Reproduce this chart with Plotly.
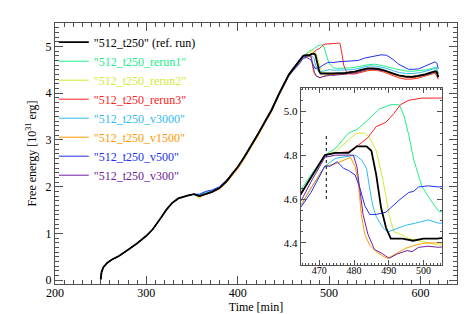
import plotly.graph_objects as go

# ---- shared early evolution (all runs coincide) ----
t_early = [250, 251, 253, 257, 262, 270, 280, 290, 300, 307, 315, 322, 328, 335, 345, 352]
f_early = [0.02, 0.18, 0.28, 0.37, 0.44, 0.52, 0.65, 0.79, 0.95, 1.09, 1.31, 1.51, 1.65, 1.75, 1.81, 1.84]

# ---- rise phase per run ----
t_rise = [358, 365, 372, 380, 388, 395, 400, 407, 415, 422, 430, 437, 445, 451, 456, 461]
f_rise_ref = [1.80, 1.85, 1.89, 1.97, 2.12, 2.30, 2.42, 2.63, 2.88, 3.12, 3.40, 3.64, 3.98, 4.22, 4.40, 4.53]
f_rise_rerun1 = [1.82, 1.86, 1.90, 1.98, 2.13, 2.31, 2.43, 2.64, 2.89, 3.13, 3.41, 3.65, 3.99, 4.23, 4.41, 4.54]
f_rise_rerun2 = [1.76, 1.84, 1.89, 1.97, 2.12, 2.30, 2.42, 2.63, 2.88, 3.12, 3.40, 3.64, 3.98, 4.22, 4.40, 4.53]
f_rise_rerun3 = [1.79, 1.84, 1.88, 1.96, 2.11, 2.29, 2.41, 2.62, 2.87, 3.11, 3.39, 3.63, 3.97, 4.21, 4.39, 4.52]
f_rise_v3000 = [1.83, 1.88, 1.91, 1.98, 2.12, 2.29, 2.41, 2.61, 2.86, 3.10, 3.38, 3.62, 3.96, 4.20, 4.38, 4.50]
f_rise_v1500 = [1.79, 1.84, 1.88, 1.95, 2.09, 2.26, 2.38, 2.59, 2.84, 3.08, 3.36, 3.60, 3.94, 4.18, 4.36, 4.49]
f_rise_v500 = [1.84, 1.90, 1.93, 2.00, 2.15, 2.31, 2.42, 2.62, 2.87, 3.11, 3.39, 3.62, 3.96, 4.19, 4.37, 4.49]
f_rise_v300 = [1.80, 1.85, 1.89, 1.97, 2.12, 2.30, 2.42, 2.63, 2.88, 3.12, 3.40, 3.64, 3.98, 4.21, 4.39, 4.51]

# ---- individual late evolution ----
t_ref = [465, 468, 471.6, 474.6, 478.4, 480.8, 483.6, 485, 486.4, 487.8, 489.2, 490.6, 494, 497, 500, 504,
         510, 517, 523, 528, 534, 542, 548, 554, 560, 565, 570, 576, 583, 590, 597, 605, 611, 616, 618, 619.5]
f_ref = [4.63, 4.71, 4.80, 4.81, 4.81, 4.84, 4.84, 4.82, 4.71, 4.56, 4.47, 4.42, 4.42, 4.41, 4.42, 4.42,
         4.43, 4.43, 4.45, 4.46, 4.49, 4.53, 4.53, 4.52, 4.49, 4.46, 4.42, 4.38, 4.36, 4.35, 4.37, 4.40, 4.44, 4.47, 4.45, 4.34]

t_rerun1 = [465, 467.6, 471.6, 474.6, 478.4, 481.2, 484, 487.3, 490.6, 493, 494.4, 495.8, 497.2, 499.5, 502.3, 504.4,
            508, 515, 522, 530, 537, 543, 550, 557, 563, 570, 577, 585, 592, 600, 607, 613, 617, 619.5]
f_rerun1 = [4.65, 4.71, 4.80, 4.83, 4.90, 4.92, 4.96, 5.01, 5.03, 5.03, 4.98, 4.89, 4.78, 4.66, 4.59, 4.545,
            4.53, 4.53, 4.54, 4.56, 4.59, 4.61, 4.62, 4.60, 4.57, 4.53, 4.50, 4.47, 4.47, 4.48, 4.50, 4.53, 4.56, 4.43]

t_rerun2 = [465, 468, 471.6, 474.6, 478.4, 480.8, 483.1, 484.5, 486.4, 488.3, 490.1, 491.5, 493.4, 495.8, 498.6, 501.4, 504.4,
            510, 517, 523, 530, 537, 543, 550, 557, 563, 570, 577, 585, 592, 600, 607, 613, 617, 619.5]
f_rerun2 = [4.63, 4.71, 4.80, 4.815, 4.87, 4.90, 4.90, 4.88, 4.82, 4.69, 4.53, 4.45, 4.44, 4.42, 4.41, 4.40, 4.39,
            4.40, 4.41, 4.43, 4.45, 4.48, 4.52, 4.52, 4.50, 4.47, 4.42, 4.38, 4.36, 4.36, 4.38, 4.41, 4.45, 4.48, 4.38]

t_rerun3 = [465, 468, 471.6, 474.6, 478.4, 481.2, 484, 486.4, 489.2, 491.5, 493.4, 495.8, 499.5, 505, 510, 512, 514, 516, 519,
            523, 528, 534, 542, 548, 554, 560, 565, 570, 576, 583, 590, 597, 605, 611, 616, 619.5]
f_rerun3 = [4.63, 4.71, 4.80, 4.81, 4.815, 4.845, 4.88, 4.93, 4.95, 4.99, 5.03, 5.05, 5.06, 5.06, 5.07, 5.06, 4.85, 4.60, 4.45,
            4.41, 4.41, 4.44, 4.48, 4.49, 4.48, 4.45, 4.41, 4.37, 4.33, 4.30, 4.30, 4.32, 4.36, 4.40, 4.43, 4.30]

t_v3000 = [465, 467.6, 471.6, 474.6, 478.4, 480.3, 482.1, 483.6, 484.5, 485.4, 486.4, 488.3, 489.7, 492, 494.8, 497.7, 501.4, 504.4,
           510, 517, 523, 530, 537, 543, 550, 557, 563, 570, 577, 585, 592, 600, 607, 613, 617, 619.5]
f_v3000 = [4.58, 4.65, 4.75, 4.785, 4.797, 4.80, 4.78, 4.74, 4.65, 4.57, 4.52, 4.47, 4.45, 4.465, 4.48, 4.49, 4.505, 4.49,
           4.49, 4.49, 4.50, 4.52, 4.55, 4.58, 4.58, 4.56, 4.53, 4.48, 4.44, 4.42, 4.42, 4.44, 4.47, 4.51, 4.53, 4.42]

t_v1500 = [465, 467.6, 471.6, 474.6, 477.5, 478.9, 480.3, 481.2, 482.1, 483.1, 484.5, 486.4, 488.3, 489.7, 492, 494.8, 497.7, 500.5, 504.4,
           510, 517, 523, 530, 537, 543, 550, 557, 563, 570, 577, 585, 592, 600, 607, 613, 617, 619.5]
f_v1500 = [4.58, 4.65, 4.75, 4.76, 4.78, 4.79, 4.75, 4.68, 4.53, 4.44, 4.39, 4.36, 4.34, 4.33, 4.35, 4.375, 4.39, 4.40, 4.40,
           4.40, 4.40, 4.42, 4.44, 4.47, 4.50, 4.50, 4.48, 4.45, 4.40, 4.36, 4.33, 4.33, 4.35, 4.38, 4.42, 4.45, 4.35]

t_v500 = [465, 467.6, 471.6, 473.2, 475.1, 477, 478.4, 480.3, 481.7, 483.1, 484.5, 486.4, 489.2, 490.6, 493, 495.8, 497.2, 498.6, 501.4, 504.4,
          510, 517, 525, 532, 539, 548, 557, 563, 570, 576, 582, 587, 592, 598, 604, 609, 616, 618, 619.5]
f_v500 = [4.57, 4.63, 4.75, 4.75, 4.77, 4.74, 4.73, 4.71, 4.65, 4.57, 4.53, 4.53, 4.54, 4.56, 4.595, 4.63, 4.635, 4.655, 4.66, 4.655,
          4.67, 4.68, 4.68, 4.70, 4.75, 4.79, 4.82, 4.81, 4.72, 4.62, 4.55, 4.51, 4.51, 4.52, 4.57, 4.61, 4.67, 4.64, 4.52]

t_v300 = [465, 468, 471.6, 474.6, 478.4, 479.8, 480.8, 481.7, 482.6, 484, 485.9, 488.3, 490.1, 492.5, 495.3, 496.7, 498.6, 501.4, 504.4,
          510, 517, 523, 530, 537, 543, 550, 557, 563, 570, 577, 585, 592, 600, 607, 613, 617, 619.5]
f_v300 = [4.60, 4.69, 4.79, 4.80, 4.80, 4.80, 4.75, 4.63, 4.53, 4.44, 4.37, 4.35, 4.33, 4.35, 4.365, 4.36, 4.38, 4.385, 4.38,
          4.39, 4.40, 4.42, 4.44, 4.47, 4.51, 4.51, 4.49, 4.46, 4.41, 4.37, 4.34, 4.34, 4.36, 4.39, 4.43, 4.46, 4.36]

run_names = ['"512_t250" (ref. run)', '"512_t250_rerun1"', '"512_t250_rerun2"', '"512_t250_rerun3"',
             '"512_t250_v3000"', '"512_t250_v1500"', '"512_t250_v500"', '"512_t250_v300"']
run_colors = ['#000000', '#22EE88', '#CCEE33', '#FF2020', '#30BBF0', '#FF9900', '#2030EE', '#7020A0']

rise_vals = [f_rise_ref, f_rise_rerun1, f_rise_rerun2, f_rise_rerun3, f_rise_v3000, f_rise_v1500, f_rise_v500, f_rise_v300]
late_t = [t_ref, t_rerun1, t_rerun2, t_rerun3, t_v3000, t_v1500, t_v500, t_v300]
late_f = [f_ref, f_rerun1, f_rerun2, f_rerun3, f_v3000, f_v1500, f_v500, f_v300]

# reference marker in inset
marker_t = 472
marker_f = [4.6, 4.9]

FONT = "Liberation Serif, Times New Roman, serif"
AX = "#505050"

fig = go.Figure()
order = [1, 2, 3, 4, 5, 6, 7, 0]  # draw black on top
for i in order:
    tt = t_early + t_rise + late_t[i]
    ff = f_early + rise_vals[i] + late_f[i]
    w = 1.8 if i == 0 else 1
    fig.add_trace(go.Scatter(x=tt, y=ff, mode="lines", line=dict(color=run_colors[i], width=w),
                             name='<span style="color:%s">%s</span>' % (run_colors[i], run_names[i]),
                             legendrank=i + 1, xaxis="x", yaxis="y"))
for i in order:
    tt = t_rise + late_t[i]
    ff = rise_vals[i] + late_f[i]
    w = 1.8 if i == 0 else 1
    fig.add_trace(go.Scatter(x=tt, y=ff, mode="lines", line=dict(color=run_colors[i], width=w),
                             showlegend=False, xaxis="x2", yaxis="y2"))
fig.add_trace(go.Scatter(x=[marker_t, marker_t], y=marker_f, mode="lines",
                         line=dict(color="black", width=1, dash="dot"), showlegend=False,
                         xaxis="x2", yaxis="y2"))

def axis_common(size):
    return dict(showline=True, linecolor=AX, linewidth=1, mirror="allticks", ticks="inside",
                tickcolor=AX, showgrid=False, zeroline=False,
                tickfont=dict(family=FONT, size=size, color="black"))

fig.update_layout(
    width=472, height=314,
    margin=dict(l=47, r=23, t=15, b=38),
    paper_bgcolor="white", plot_bgcolor="white",
    font=dict(family=FONT, size=12, color="black"),
    xaxis=dict(domain=[0, 1], range=[200, 640], dtick=100, ticklen=8, ticklabelstandoff=-2,
               minor=dict(dtick=10, ticklen=4, ticks="inside", tickcolor=AX),
               title=dict(text="Time [min]", font=dict(family=FONT, size=12), standoff=0),
               **axis_common(12)),
    yaxis=dict(domain=[0, 1], range=[-0.08, 5.5], dtick=1, ticklen=8,
               minor=dict(dtick=0.1, ticklen=4, ticks="inside", tickcolor=AX),
               title=dict(text="Free energy [10<sup>31</sup> erg]", font=dict(family=FONT, size=12), standoff=6),
               **axis_common(12)),
    xaxis2=dict(domain=[0.611, 0.963], anchor="y2", range=[464.6, 505.4], dtick=10, ticklen=5, ticklabelstandoff=-4,
                minor=dict(dtick=1, ticklen=2.5, ticks="inside", tickcolor=AX),
                **axis_common(10)),
    yaxis2=dict(domain=[0.0716, 0.751], anchor="x2", range=[4.298, 5.106], dtick=0.2, tickformat=".1f", ticklen=5,
                minor=dict(dtick=0.05, ticklen=2.5, ticks="inside", tickcolor=AX),
                **axis_common(11)),
    legend=dict(x=-0.003, y=0.982, xanchor="left", yanchor="top", bgcolor="rgba(0,0,0,0)",
                font=dict(family=FONT, size=12), tracegroupgap=0),
    showlegend=True,
)

fig.write_html("out.html")
